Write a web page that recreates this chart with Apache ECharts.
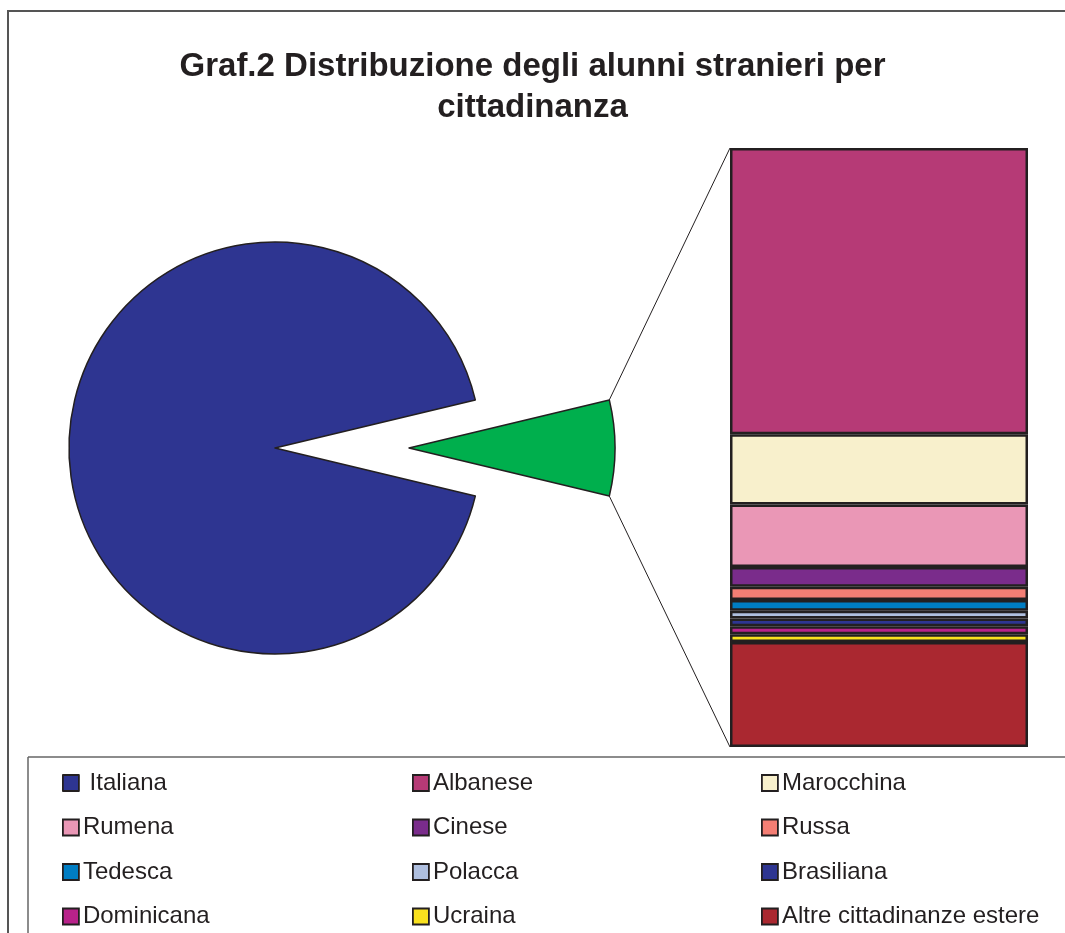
<!DOCTYPE html>
<html>
<head>
<meta charset="utf-8">
<script src="https://cdn.jsdelivr.net/npm/echarts@6/dist/echarts.min.js"></script>
<style>
  html, body { margin: 0; padding: 0; background: #fff; }
  #chart { width: 1065px; height: 933px; }
</style>
</head>
<body>
<div id="chart"></div>
<script>
// pie: Italian vs foreign pupils (%)
const pieNames = ['Stranieri', 'Italiana'];
const pieValues = [7.5, 92.5];
const pieColors = ['#00AF4D', '#2E3591'];

// breakdown of foreign pupils by citizenship (% of foreign pupils)
const barNames = ['Albanese', 'Marocchina', 'Rumena', 'Cinese', 'Russa', 'Tedesca',
  'Polacca', 'Brasiliana', 'Dominicana', 'Ucraina', 'Altre cittadinanze estere'];
const barValues = [47.7, 11.7, 10.4, 3.3, 2.2, 1.8, 1.3, 1.3, 1.3, 1.3, 17.5];
const barColors = ['#B63A76', '#F8F0CC', '#EA97B6', '#7A2C8B', '#F47E74', '#007DC3',
  '#AFBFDF', '#2E3591', '#B8228A', '#F9E11E', '#AA2830'];

// legend columns (row-wise order in the picture)
const legendCols = [
  ['Italiana', 'Rumena', 'Tedesca', 'Dominicana'],
  ['Albanese', 'Cinese', 'Polacca', 'Ucraina'],
  ['Marocchina', 'Russa', 'Brasiliana', 'Altre cittadinanze estere']
];

const font = '"Liberation Sans", Arial, sans-serif';
const pieCenter = [275, 448];
const pieRadius = 206;
const pieOffset = 134;
const barBox = { left: 730, top: 148, width: 298, height: 599 };

const chart = echarts.init(document.getElementById('chart'));

const greenHalf = 360 * pieValues[0] / (pieValues[0] + pieValues[1]) / 2;
const barTotal = barValues.reduce((a, b) => a + b, 0);

const legendX = [62, 412, 761];
const legends = legendCols.map((col, i) => ({
  orient: 'vertical',
  left: legendX[i],
  top: 769,
  padding: 0,
  itemWidth: 16,
  itemHeight: 16,
  itemGap: 16.5,
  icon: 'rect',
  selectedMode: false,
  itemStyle: { borderColor: '#231F20', borderWidth: 1.8 },
  textStyle: { fontFamily: font, fontSize: 24, lineHeight: 28, color: '#231F20', padding: [0, 0, 0, -1] },
  formatter: name => name === 'Italiana' ? ' ' + name : name,
  data: col
}));

chart.setOption({
  animation: false,
  title: {
    text: 'Graf.2 Distribuzione degli alunni stranieri per\ncittadinanza',
    left: 'center',
    top: 41,
    textStyle: { fontFamily: font, fontSize: 33, fontWeight: 'bold', color: '#231F20', lineHeight: 41, align: 'center' }
  },
  legend: legends,
  grid: { left: barBox.left, top: barBox.top, width: barBox.width, height: barBox.height },
  xAxis: { type: 'category', data: [''], show: false },
  yAxis: { type: 'value', inverse: true, min: 0, max: barTotal, show: false },
  series: [
    {
      type: 'pie',
      center: pieCenter,
      radius: pieRadius,
      startAngle: greenHalf,
      clockwise: true,
      selectedMode: 'single',
      selectedOffset: pieOffset,
      label: { show: false },
      labelLine: { show: false },
      emphasis: { disabled: true },
      itemStyle: { borderColor: '#231F20', borderWidth: 1.5 },
      data: pieNames.map((n, i) => ({
        name: n, value: pieValues[i], selected: i === 0,
        itemStyle: { color: pieColors[i] }
      }))
    }
  ].concat(barNames.map((n, i) => ({
    type: 'bar',
    name: n,
    stack: 'cit',
    barWidth: '100%',
    emphasis: { disabled: true },
    itemStyle: { color: barColors[i], borderColor: '#231F20', borderWidth: 2.5 },
    data: [barValues[i]]
  })))
});

// connector lines from the exploded slice to the bar
const rad = greenHalf * Math.PI / 180;
const sx = pieCenter[0] + pieOffset + pieRadius * Math.cos(rad);
const syTop = pieCenter[1] - pieRadius * Math.sin(rad);
const syBot = pieCenter[1] + pieRadius * Math.sin(rad);
const barTop = chart.convertToPixel({ yAxisIndex: 0 }, 0);
const barBot = chart.convertToPixel({ yAxisIndex: 0 }, barTotal);

chart.setOption({
  graphic: [
    { type: 'line', shape: { x1: sx, y1: syTop, x2: barBox.left, y2: barTop }, style: { stroke: '#231F20', lineWidth: 1 } },
    { type: 'line', shape: { x1: sx, y1: syBot, x2: barBox.left, y2: barBot }, style: { stroke: '#231F20', lineWidth: 1 } },
    // outer frame
    { type: 'line', shape: { x1: 7, y1: 11, x2: 1065, y2: 11 }, style: { stroke: '#555', lineWidth: 2 } },
    { type: 'line', shape: { x1: 8, y1: 11, x2: 8, y2: 933 }, style: { stroke: '#555', lineWidth: 2 } },
    // legend box
    { type: 'line', shape: { x1: 28, y1: 757, x2: 1065, y2: 757 }, style: { stroke: '#666', lineWidth: 1.5 } },
    { type: 'line', shape: { x1: 28, y1: 757, x2: 28, y2: 933 }, style: { stroke: '#666', lineWidth: 1.5 } }
  ]
});
</script>
</body>
</html>
